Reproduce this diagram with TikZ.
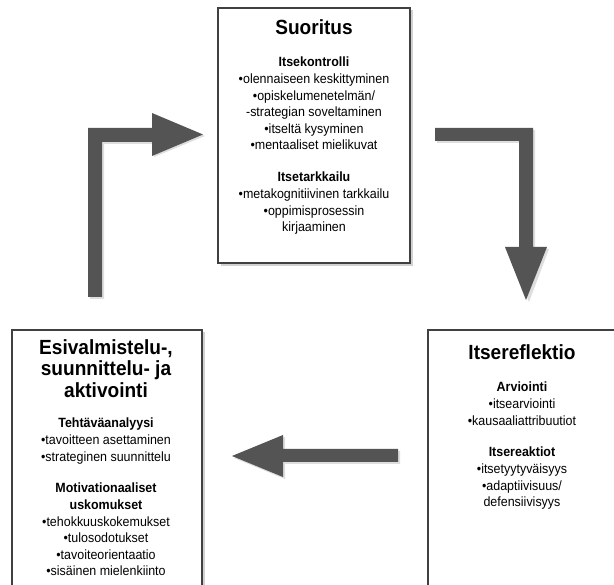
\documentclass[tikz,border=0pt]{standalone}
\usepackage{fontspec}
\setmainfont[FakeStretch=0.93]{Liberation Sans}
\newfontfamily\titlefont[FakeStretch=0.93]{Liberation Sans}
\begin{document}
\begin{tikzpicture}[x=1pt,y=-1pt,
  box/.style={draw=black!75,line width=1.4pt,fill=white,inner sep=0pt},
  shadowbox/.style={fill=black!18,draw=none},
  blockarrow/.style={fill=black!67,draw=none},
  arrowshadow/.style={fill=black!13,draw=none},
  ttl/.style={font=\titlefont\fontsize{20.5}{21.5}\selectfont\bfseries,align=center,inner sep=0pt,anchor=north},
  grp/.style={font=\fontsize{13.4}{16.6}\selectfont,align=center,inner sep=0pt,anchor=north}]
\useasboundingbox (0,0) rectangle (614,585);
\clip (0,0) rectangle (614,585);
\fill[white] (0,0) rectangle (614,585);
% shadows of boxes
\fill[shadowbox] (220.5,10.5) rectangle (413,266);
\fill[shadowbox] (14.5,332.5) rectangle (205,590);
\fill[shadowbox] (430.5,332.5) rectangle (620,590);
% boxes
\draw[box] (218,8) rectangle (410,263);
\draw[box] (12,330) rectangle (202,595);
\draw[box] (428,330) rectangle (620,595);
% arrows (shadows)
\fill[arrowshadow] (90,299) -- (90,130) -- (154,130) -- (154,115) -- (205,136) -- (154,157) -- (154,144) -- (104,144) -- (104,299) -- cycle;
\fill[arrowshadow] (437,130) -- (535,130) -- (535,249) -- (549,249) -- (529,302) -- (507,249) -- (521,249) -- (521,143) -- (437,143) -- cycle;
\fill[arrowshadow] (400,451) -- (285,451) -- (285,437) -- (234,458) -- (285,479) -- (285,464) -- (400,464) -- cycle;
% arrows
\fill[blockarrow] (88,297) -- (88,128) -- (152,128) -- (152,113) -- (203,134.5) -- (152,156) -- (152,142) -- (102,142) -- (102,297) -- cycle;
\fill[blockarrow] (435,128) -- (533,128) -- (533,247) -- (547,247) -- (526,300) -- (505,247) -- (519,247) -- (519,141) -- (435,141) -- cycle;
\fill[blockarrow] (398,449) -- (283,449) -- (283,435) -- (232,456) -- (283,477) -- (283,462) -- (398,462) -- cycle;
% top box text
\node[ttl] (t1) at (314,19) {Suoritus};
\node[grp] (g1) at (314,57) {\textbf{Itsekontrolli}\\•olennaiseen keskittyminen\\•opiskelumenetelmän/\\-strategian soveltaminen\\•itseltä kysyminen\\•mentaaliset mielikuvat};
\node[grp] (g2) at (314,172) {\textbf{Itsetarkkailu}\\•metakognitiivinen tarkkailu\\•oppimisprosessin\\kirjaaminen};
% left box text
\node[ttl] (t2) at (106,339) {Esivalmistelu-,\\suunnittelu- ja\\aktivointi};
\node[grp] (g3) at (106,418) {\textbf{Tehtäväanalyysi}\\•tavoitteen asettaminen\\•strateginen suunnittelu};
\node[grp] (g4) at (106,483) {\textbf{Motivationaaliset}\\\textbf{uskomukset}\\•tehokkuuskokemukset\\•tulosodotukset\\•tavoiteorientaatio\\•sisäinen mielenkiinto};
% right box text
\node[ttl] (t3) at (522,344) {Itsereflektio};
\node[grp] (g5) at (522,382) {\textbf{Arviointi}\\•itsearviointi\\•kausaaliattribuutiot};
\node[grp] (g6) at (522,447) {\textbf{Itsereaktiot}\\•itsetyytyväisyys\\•adaptiivisuus/\\defensiivisyys};
\end{tikzpicture}
\end{document}
